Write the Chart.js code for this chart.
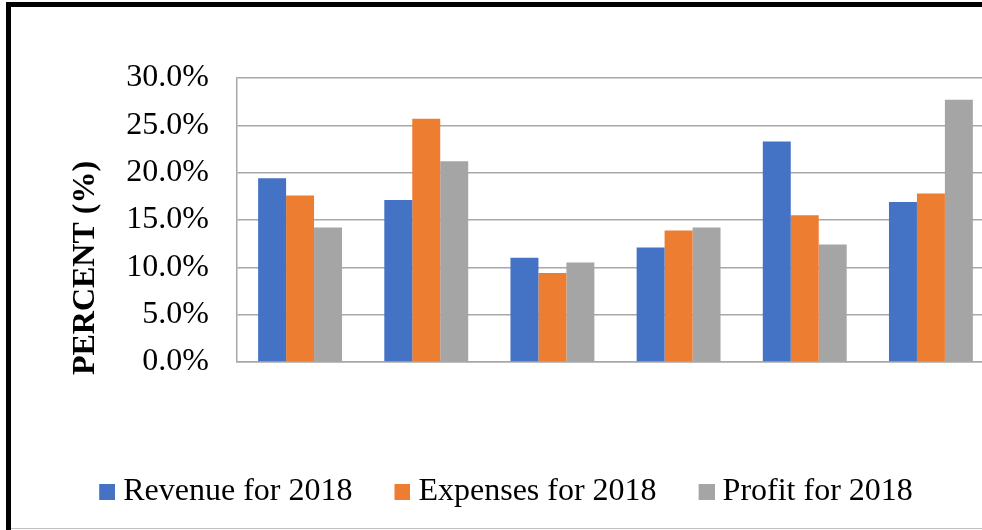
<!DOCTYPE html>
<html>
<head>
<meta charset="utf-8">
<script src="https://cdn.jsdelivr.net/npm/chart.js@4/dist/chart.umd.min.js"></script>
<style>
    html, body { margin: 0; padding: 0; background: #fff; overflow: hidden; }
    body { width: 982px; height: 530px; position: relative; }
    #wrap { position: absolute; left: 0; top: 0; width: 1004px; height: 518px; }
    /* outer frame, cropped on the right like the source picture */
    .frame-top  { position: absolute; left: 6px; top: 2px; width: 990px; height: 5px; background: #000; }
    .frame-left { position: absolute; left: 6px; top: 2px; width: 5px; height: 540px; background: #000; }
    .frame-bot  { position: absolute; left: 11px; top: 528px; width: 980px; height: 1px; background: #c0c0c0; }
</style>
</head>
<body>
<div id="wrap"><canvas id="chart" width="1004" height="518"></canvas></div>
<div class="frame-top"></div>
<div class="frame-left"></div>
<div class="frame-bot"></div>
<script>
// ---- data ----
const categories = ['', '', '', '', '', ''];   // x labels are blank in the source
const revenue    = [19.4, 17.1, 11.0, 12.1, 23.3, 16.9];
const expenses   = [17.6, 25.7, 9.4, 13.9, 15.5, 17.8];
const profit     = [14.2, 21.2, 10.5, 14.2, 12.4, 27.7];
const seriesNames = ['Revenue for 2018', 'Expenses for 2018', 'Profit for 2018'];
const yTicks     = [0, 5, 10, 15, 20, 25, 30];

const colors   = ['#4472C4', '#ED7D31', '#A5A5A5'];
const gridGray = '#a8a8a8';
const serif    = '"Liberation Serif", "Times New Roman", serif';

const datasets = [revenue, expenses, profit].map((vals, i) => ({
    label:              seriesNames[i],
    data:               vals,
    backgroundColor:    colors[i],
    borderWidth:        0,
    barPercentage:      1.0,
    categoryPercentage: 0.665,
}));

// legend swatches: square sits in the right half so it hugs the text (8px gap, like Excel)
const swatches = colors.map((c) => {
    const cv = document.createElement('canvas');
    cv.width = 32;
    cv.height = 16;
    const g = cv.getContext('2d');
    g.fillStyle = c;
    g.fillRect(16, 0, 16, 16);
    return cv;
});

new Chart(document.getElementById('chart'), {
    type: 'bar',
    data: { labels: categories, datasets },
    options: {
        responsive: false,
        animation: false,
        layout: { padding: { top: 78, left: 0, right: 0, bottom: 0 } },
        scales: {
            x: {
                grid:   { display: false },
                border: { display: true, color: gridGray, width: 1.5 },
                ticks:  { display: false },
                // leave the empty band between plot and legend
                afterFit: (s) => { s.height = 80; },
            },
            y: {
                min: 0,
                max: 30,
                afterBuildTicks: (s) => { s.ticks = yTicks.map(v => ({ value: v })); },
                grid:   { color: gridGray, lineWidth: 1.5, drawTicks: false },
                border: { display: true, color: gridGray, width: 1.5 },
                ticks: {
                    padding: 28,
                    color: '#000',
                    font: { family: serif, size: 32 },
                    callback: (v) => v.toFixed(1) + '%',
                },
                title: {
                    display: true,
                    // trailing spaces nudge the label down, as in the source
                    text: 'PERCENT (%)' + '\u00a0'.repeat(12),
                    color: '#000',
                    font: { family: serif, size: 32, weight: 'bold' },
                    padding: { top: 67, bottom: 0 },
                },
                afterFit: (s) => { s.width = 237; },
            },
            // empty spacer so the plot stops a little short of the canvas edge
            spacer: {
                type: 'linear',
                position: 'right',
                display: true,
                grid:   { display: false },
                border: { display: false },
                ticks:  { display: false },
                afterFit: (s) => { s.width = 10; },
            },
        },
        plugins: {
            legend: {
                position: 'bottom',
                labels: {
                    boxWidth:  16,
                    boxHeight: 16,
                    padding:   34,
                    usePointStyle: true,
                    color: '#000',
                    font: { family: serif, size: 32 },
                    generateLabels: (chart) =>
                        Chart.defaults.plugins.legend.labels.generateLabels(chart)
                            .map((item, i) => ({ ...item, pointStyle: swatches[i] })),
                },
            },
            tooltip: { enabled: false },
        },
    },
});
</script>
</body>
</html>
